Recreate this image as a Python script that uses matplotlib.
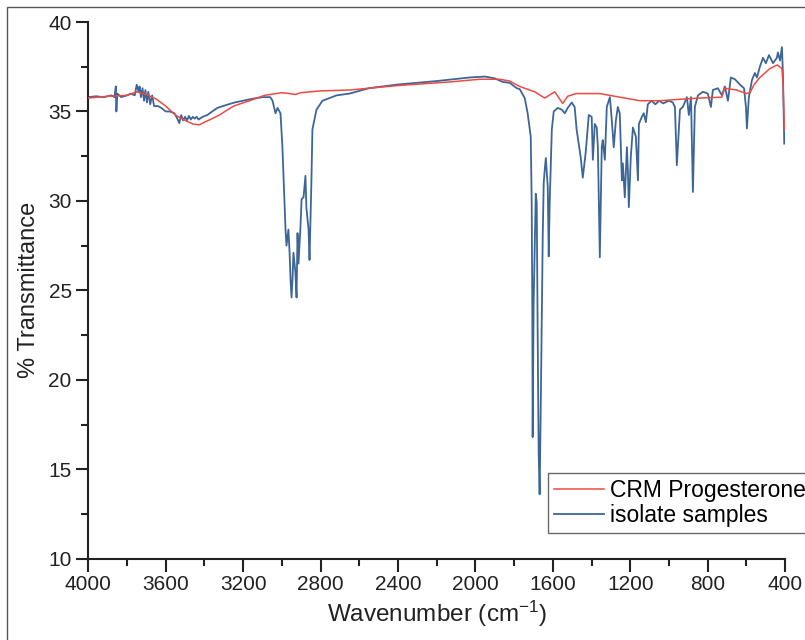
import numpy as np
import matplotlib
matplotlib.use('Agg')
from matplotlib import pyplot as plt
from matplotlib.patches import Rectangle
from matplotlib.ticker import MultipleLocator

plt.rcParams['font.family'] = ['Liberation Sans', 'DejaVu Sans']
plt.rcParams['mathtext.default'] = 'regular'

# CRM Progesterone (red)
crm_wn = [4000, 3900, 3800, 3750, 3700, 3650, 3600, 3550, 3500, 3460, 3426, 3400,
          3360, 3323, 3250, 3167, 3090, 3000, 2960, 2930, 2900, 2800, 2650, 2400,
          2133, 1978, 1874, 1823, 1771, 1720, 1693, 1642, 1590, 1549, 1523, 1480,
          1357, 1254, 1150, 1047, 920, 840, 727, 712, 650, 600, 581, 560, 530,
          478, 440, 416, 410, 404]
crm_t = [35.75, 35.85, 35.9, 36.1, 35.95, 35.7, 35.3, 34.8, 34.5, 34.3, 34.25, 34.4,
         34.6, 34.8, 35.3, 35.6, 35.9, 36.05, 36.0, 35.95, 36.05, 36.15, 36.2, 36.45,
         36.65, 36.8, 36.8, 36.7, 36.4, 36.2, 36.1, 35.75, 36.1, 35.45, 35.85, 36.0,
         36.0, 35.8, 35.6, 35.6, 35.7, 35.75, 35.8, 36.3, 36.2, 36.0, 36.05, 36.5, 36.9,
         37.4, 37.6, 37.4, 36.5, 34.0]

# isolate samples (blue)
iso_wn = [4000, 3960, 3920, 3880, 3865, 3858, 3855, 3850, 3830, 3800, 3780, 3760,
          3750, 3740, 3735, 3728, 3720, 3712, 3705, 3697, 3690, 3680, 3670, 3660,
          3640, 3623, 3600, 3580, 3555, 3540, 3530, 3520, 3510, 3500, 3490, 3480,
          3470, 3460, 3450, 3440, 3430, 3410, 3385, 3360, 3333, 3290, 3245, 3200,
          3157, 3100, 3060, 3048, 3033, 3022, 3007, 2997, 2981, 2976, 2966, 2960,
          2955, 2950, 2945, 2940, 2930, 2924, 2919, 2914, 2904, 2898, 2888, 2878,
          2873, 2862, 2857, 2847, 2842, 2821, 2790, 2717, 2650, 2550, 2407, 2200,
          2030, 1950, 1900, 1859, 1823, 1786, 1771, 1745, 1730, 1714, 1709, 1706,
          1704, 1699, 1688, 1683, 1678, 1673, 1668, 1662, 1652, 1647, 1642, 1636,
          1626, 1621, 1616, 1605, 1595, 1574, 1554, 1538, 1523, 1502, 1487, 1477,
          1456, 1445, 1430, 1414, 1399, 1393, 1383, 1373, 1367, 1357, 1347, 1342,
          1331, 1321, 1305, 1295, 1285, 1274, 1264, 1254, 1243, 1238, 1228, 1217,
          1212, 1207, 1197, 1186, 1171, 1160, 1155, 1140, 1130, 1119, 1109, 1090,
          1070, 1050, 1030, 1000, 980, 969, 959, 943, 928, 907, 897, 886, 876, 866,
          850, 824, 799, 783, 773, 747, 726, 711, 695, 680, 659, 633, 612, 602, 597,
          587, 571, 556, 545, 530, 514, 499, 483, 462, 442, 437, 426, 416, 411, 404]
iso_t = [35.8, 35.85, 35.8, 35.9, 35.8, 36.4, 35.0, 36.0, 35.8, 35.9, 36.0, 35.9,
         36.5, 36.1, 36.4, 35.8, 36.3, 35.6, 36.2, 35.5, 36.1, 35.4, 35.9, 35.3,
         35.3, 35.2, 35.0, 35.0, 34.9, 34.6, 34.35, 34.8, 34.5, 34.7, 34.5, 34.75,
         34.55, 34.7, 34.6, 34.7, 34.55, 34.7, 34.8, 35.0, 35.2, 35.35, 35.5, 35.6,
         35.7, 35.8, 35.8, 35.6, 34.9, 35.2, 34.9, 33.0, 28.4, 27.5, 28.4, 27.1,
         25.6, 24.6, 25.6, 27.1, 26.0, 24.6, 28.2, 26.5, 28.5, 30.1, 30.2, 31.4,
         29.6, 28.4, 26.7, 31.2, 34.0, 35.1, 35.6, 35.9, 36.0, 36.3, 36.5, 36.7,
         36.9, 36.95, 36.85, 36.65, 36.6, 36.3, 36.25, 35.75, 34.9, 33.6, 29.9, 24.3,
         16.8, 24.3, 30.4, 29.9, 22.4, 15.9, 13.6, 18.7, 28.0, 31.0, 31.7, 32.4,
         30.8, 26.9, 29.9, 34.0, 35.0, 35.2, 35.1, 34.9, 35.2, 35.5, 35.25, 34.0,
         32.45, 31.3, 32.7, 34.8, 34.7, 32.3, 34.3, 34.1, 33.0, 26.85, 33.0, 33.4,
         32.3, 35.25, 35.8, 34.5, 33.0, 34.5, 35.25, 34.9, 31.15, 32.1, 30.2, 33.0,
         31.7, 29.65, 32.45, 34.1, 33.6, 31.15, 34.3, 34.7, 34.9, 34.4, 35.4, 35.6,
         35.4, 35.6, 35.45, 35.6, 35.5, 35.25, 32.0, 35.1, 35.25, 35.8, 34.8, 35.8, 30.5, 35.25,
         35.9, 36.1, 36.0, 35.25, 36.2, 36.3, 35.9, 36.4, 35.6, 36.9, 36.8, 36.5, 36.3, 35.25, 34.05,
         35.8, 36.75, 37.15, 36.9, 37.5, 38.0, 37.7, 38.15, 37.7, 38.0, 38.3, 37.85, 38.6, 37.15, 33.2]

fig = plt.figure(figsize=(8.05, 6.4), dpi=100)
ax = fig.add_axes([0.1097, 0.127, 0.8655, 0.8386])

ax.plot(crm_wn, crm_t, color='#ee4a44', lw=1.1, label='CRM Progesterone', zorder=3)
ax.plot(iso_wn, iso_t, color='#3d6698', lw=1.3, label='isolate samples', zorder=2)

ax.set_xlim(4000, 400)
ax.set_ylim(10, 40)
ax.xaxis.set_major_locator(MultipleLocator(400))
ax.xaxis.set_minor_locator(MultipleLocator(200))
ax.yaxis.set_major_locator(MultipleLocator(5))
ax.yaxis.set_minor_locator(MultipleLocator(2.5))

for side in ['top', 'right']:
    ax.spines[side].set_visible(False)
for side in ['left', 'bottom']:
    ax.spines[side].set_linewidth(1.5)
    ax.spines[side].set_color('#222222')

ax.tick_params(which='major', direction='out', length=9, width=1.5, labelsize=15,
               colors='#222222', pad=3)
ax.tick_params(which='minor', direction='out', length=5, width=1.5, colors='#222222')

ax.set_xlabel('Wavenumber (cm$^{-1}$)', fontsize=17.5, color='#222222', labelpad=3)
ax.set_ylabel('% Transmittance', fontsize=17, color='#222222', labelpad=6)

leg = ax.legend(loc='upper left', bbox_to_anchor=(0.66, 0.16), borderaxespad=0,
                fontsize=16.5, frameon=True, fancybox=False, handlelength=2.2,
                handletextpad=0.25, borderpad=0.25, labelspacing=0.1)
leg.get_frame().set_edgecolor('#444444')
leg.get_frame().set_linewidth(1.0)

fig.patches.append(Rectangle((0.0087, -0.01), 1.0, 1.0 - 0.0109 + 0.01,
                             transform=fig.transFigure, fill=False,
                             edgecolor='#555555', lw=1.0))

plt.savefig('out.png', dpi=100)
